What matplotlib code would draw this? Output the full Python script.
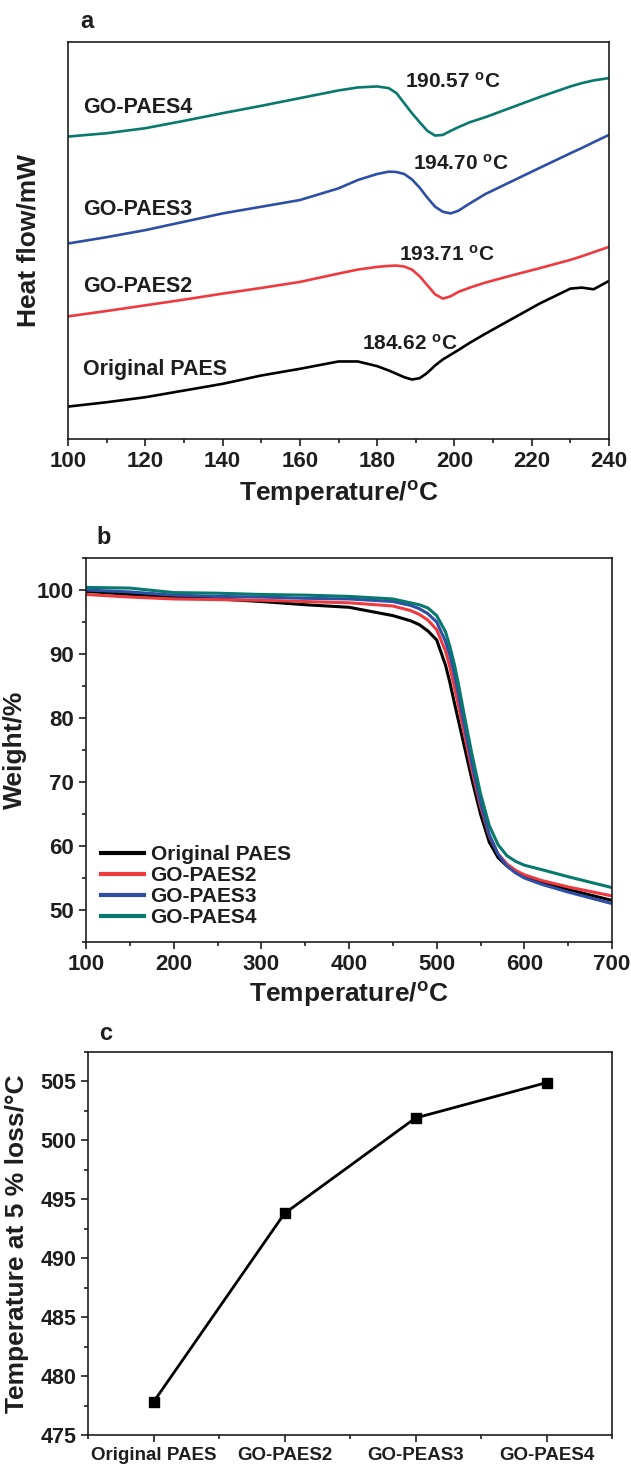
import numpy as np
import matplotlib
matplotlib.use("Agg")
import matplotlib.pyplot as plt
from matplotlib.ticker import MultipleLocator, NullLocator

plt.rcParams['font.family'] = ['Liberation Sans', 'DejaVu Sans']
plt.rcParams['font.weight'] = 'bold'
plt.rcParams['mathtext.fontset'] = 'custom'
plt.rcParams['mathtext.rm'] = 'Liberation Sans:bold'
plt.rcParams['mathtext.default'] = 'rm'

# ---- panel a: DSC curves (arbitrary heat flow units) ----
dsc_t = [100, 110, 120, 130, 140, 150, 160, 170, 175, 180, 183, 185, 187, 189, 191, 193, 195, 197, 199,
         201, 204, 208, 215, 222, 230, 233, 236, 240]
dsc_orig = [0.97, 1.10, 1.25, 1.45, 1.65, 1.90, 2.10, 2.32, 2.32, 2.18, 2.05, 1.95, 1.85, 1.78, 1.82, 1.98, 2.20, 2.38, 2.52,
            2.66, 2.88, 3.15, 3.60, 4.05, 4.50, 4.53, 4.48, 4.73]
dsc_go2 = [3.67, 3.83, 4.00, 4.17, 4.35, 4.52, 4.70, 4.95, 5.07, 5.15, 5.18, 5.19, 5.16, 5.07, 4.87, 4.60, 4.33, 4.20, 4.27,
           4.40, 4.53, 4.68, 4.90, 5.11, 5.36, 5.47, 5.59, 5.75]
dsc_go3 = [5.85, 6.04, 6.25, 6.50, 6.75, 6.95, 7.15, 7.50, 7.75, 7.93, 8.00, 7.99, 7.93, 7.77, 7.52, 7.22, 6.95, 6.80, 6.75,
           6.83, 7.05, 7.33, 7.72, 8.11, 8.55, 8.71, 8.88, 9.10]
dsc_go4 = [9.05, 9.15, 9.30, 9.52, 9.75, 9.97, 10.20, 10.43, 10.52, 10.55, 10.50, 10.35, 10.05, 9.75, 9.48, 9.22, 9.08, 9.10, 9.22,
           9.33, 9.48, 9.63, 9.93, 10.23, 10.55, 10.65, 10.73, 10.80]

dsc_names = ['Original PAES', 'GO-PAES2', 'GO-PAES3', 'GO-PAES4']
tg_labels = ['184.62 $^{o}$C', '193.71 $^{o}$C', '194.70 $^{o}$C', '190.57 $^{o}$C']

# ---- panel b: TGA curves ----
tga_t = [100, 150, 200, 250, 300, 350, 400, 450, 470, 480, 490, 500, 510, 515, 520, 525, 530, 540, 550, 560, 570, 580,
         590, 600, 620, 650, 700]
tga_orig = [99.8, 99.3, 98.9, 98.6, 98.2, 97.7, 97.3, 96.0, 95.2, 94.6, 93.6, 92.2, 88.3, 85.6, 82.5, 79.5, 76.5, 70.5,
            65.0, 60.6, 58.2, 56.9, 55.9, 55.3, 54.4, 53.2, 51.5]
tga_go2 = [99.3, 98.9, 98.6, 98.5, 98.4, 98.2, 98.0, 97.5, 96.8, 96.2, 95.3, 93.8, 90.5, 88.0, 85.0, 81.8, 78.5, 72.0,
           66.2, 61.6, 58.8, 57.2, 56.2, 55.5, 54.6, 53.6, 52.2]
tga_go3 = [100.0, 99.7, 99.2, 99.0, 98.9, 98.7, 98.6, 98.2, 97.6, 97.1, 96.3, 95.0, 92.0, 89.8, 87.0, 83.6, 80.0, 73.0,
           66.8, 61.8, 58.7, 56.9, 55.8, 55.0, 54.0, 52.8, 51.0]
tga_go4 = [100.4, 100.3, 99.6, 99.5, 99.3, 99.2, 99.0, 98.6, 98.0, 97.7, 97.2, 96.0, 93.5, 91.2, 88.5, 85.2, 81.5, 74.5,
           68.2, 63.2, 60.2, 58.5, 57.6, 57.0, 56.3, 55.2, 53.5]

# ---- panel c: temperature at 5 % weight loss ----
samples_c = ['Original PAES', 'GO-PAES2', 'GO-PEAS3', 'GO-PAES4']
t5 = [477.8, 493.8, 501.9, 504.9]

colors = ['#000000', '#ee3a3f', '#2d4fa5', '#08796d']
txt = '#1e1e1e'

W, H = 631, 1467
fig = plt.figure(figsize=(W / 100, H / 100), dpi=100)


def rect(l, r, t, b):
    return [l / W, 1 - b / H, (r - l) / W, (b - t) / H]


def style(ax):
    for s in ax.spines.values():
        s.set_linewidth(1.2)
        s.set_color(txt)
    ax.tick_params(which='both', direction='out', color=txt, width=1.2, labelcolor=txt)
    ax.tick_params(which='major', length=5)
    ax.tick_params(which='minor', length=3)


# panel a
ax = fig.add_axes(rect(68, 609, 42, 439))
for y, c in zip([dsc_orig, dsc_go2, dsc_go3, dsc_go4], colors):
    ax.plot(dsc_t, y, color=c, lw=1.9, solid_capstyle='round', solid_joinstyle='round')
ax.set_xlim(100, 240)
ax.set_ylim(0, 11.88)
ax.xaxis.set_major_locator(MultipleLocator(20))
ax.xaxis.set_minor_locator(MultipleLocator(10))
ax.yaxis.set_major_locator(NullLocator())
style(ax)
ax.tick_params(axis='x', labelsize=16)
ax.set_xlabel('Temperature/$^{o}$C', fontsize=19, fontweight='bold', color=txt)
ax.xaxis.set_label_coords(0.5, -0.1)
ax.set_ylabel('Heat flow/mW', fontsize=19, fontweight='bold', color=txt)
ax.yaxis.set_label_coords(-0.05, 0.5)
name_y = [2.07, 4.57, 6.87, 9.93]
tg_xy = [(188.6, 2.85), (198.0, 5.53), (201.6, 8.25), (199.5, 10.70)]
for n, ny, lab, (tx, ty) in zip(dsc_names, name_y, tg_labels, tg_xy):
    ax.text(103.8, ny, n, fontsize=15.5, fontweight='bold', color=txt, ha='left', va='center')
    ax.text(tx, ty, lab, fontsize=15, fontweight='bold', color=txt, ha='center', va='center')
fig.text(87 / W, 1 - 22 / H, 'a', fontsize=17, fontweight='bold', color=txt, ha='center', va='center')

# panel b
ax = fig.add_axes(rect(86, 612, 558, 942))
for y, c, n in zip([tga_orig, tga_go2, tga_go3, tga_go4], colors, dsc_names):
    ax.plot(tga_t, y, color=c, lw=2.2, label=n, solid_joinstyle='round')
ax.set_xlim(100, 700)
ax.set_ylim(45, 105)
ax.xaxis.set_major_locator(MultipleLocator(100))
ax.xaxis.set_minor_locator(MultipleLocator(50))
ax.yaxis.set_major_locator(MultipleLocator(10))
ax.yaxis.set_minor_locator(MultipleLocator(5))
style(ax)
ax.tick_params(labelsize=16)
ax.set_xlabel('Temperature/$^{o}$C', fontsize=19, fontweight='bold', color=txt)
ax.xaxis.set_label_coords(0.5, -0.1)
ax.set_ylabel('Weight/%', fontsize=19, fontweight='bold', color=txt)
ax.yaxis.set_label_coords(-0.113, 0.5)
leg = ax.legend(loc='lower left', bbox_to_anchor=(0.0, 0.0), frameon=False, fontsize=15,
                handlelength=2.1, handletextpad=0.3, labelspacing=0.1, borderaxespad=0.3)
for t in leg.get_texts():
    t.set_color(txt)
for l in leg.get_lines():
    l.set_linewidth(3)
fig.text(104 / W, 1 - 537 / H, 'b', fontsize=17, fontweight='bold', color=txt, ha='center', va='center')

# panel c
ax = fig.add_axes(rect(88, 612, 1052, 1435))
xc = np.arange(len(samples_c))
ax.plot(xc, t5, color='black', lw=2, marker='s', markersize=7)
ax.set_xlim(-0.5, 3.5)
ax.set_ylim(475, 507.5)
ax.set_xticks(xc)
ax.set_xticklabels(samples_c)
ax.xaxis.set_minor_locator(MultipleLocator(0.5))
ax.yaxis.set_major_locator(MultipleLocator(5))
ax.yaxis.set_minor_locator(MultipleLocator(2.5))
style(ax)
ax.tick_params(axis='y', labelsize=15.5)
ax.tick_params(axis='x', labelsize=13.5)
ax.set_ylabel('Temperature at 5 % loss/°C', fontsize=19, fontweight='bold', color=txt)
ax.yaxis.set_label_coords(-0.113, 0.5)
fig.text(106 / W, 1 - 1033 / H, 'c', fontsize=17, fontweight='bold', color=txt, ha='center', va='center')

fig.savefig('out.png', dpi=100)
